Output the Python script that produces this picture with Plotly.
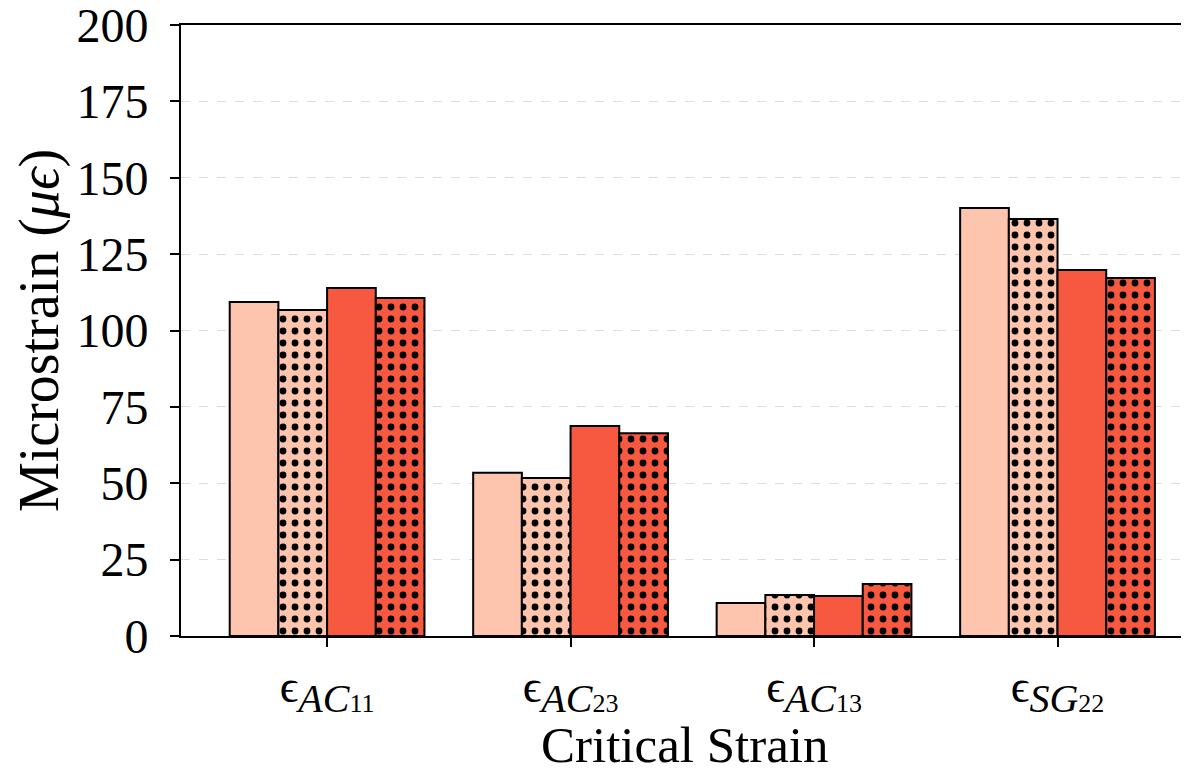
import plotly.graph_objects as go

cat_main = ["AC", "AC", "AC", "SG"]
cat_index = ["11", "23", "13", "22"]
series1 = [109.3, 53.4, 10.8, 140.1]
series2 = [106.7, 51.7, 13.4, 136.5]
series3 = [113.9, 68.7, 13.1, 119.8]
series4 = [110.6, 66.4, 17.0, 117.2]
series_names = ["A", "B", "C", "D"]
colors = ["#fdc4ae", "#fdc4ae", "#f6593f", "#f6593f"]
dotted = [False, True, False, True]
y_ticks = [0, 25, 50, 75, 100, 125, 150, 175, 200]

FONT = "Liberation Serif"

categories = [
    f"ϵ<sub><span style='font-size:40px'><i>{m}</i></span></sub>"
    f"<sub><span style='font-size:26px'>{i}</span></sub>"
    for m, i in zip(cat_main, cat_index)
]

fig = go.Figure()
xs = list(range(len(categories)))
for name, vals, col, dot in zip(series_names, [series1, series2, series3, series4], colors, dotted):
    if dot:
        pattern = dict(shape=".", fgcolor="black", fgopacity=1, bgcolor=col, size=12,
                       solidity=0.25, fillmode="overlay")
    else:
        pattern = dict(shape="")
    fig.add_trace(go.Bar(
        x=xs, y=vals, name=name,
        marker=dict(color=col, line=dict(color="black", width=2), pattern=pattern),
        showlegend=False,
    ))

fig.update_layout(
    width=1181, height=761,
    margin=dict(l=173, r=0, t=17, b=133),
    paper_bgcolor="white", plot_bgcolor="white",
    barmode="group", bargap=0.2, bargroupgap=0.0,
    font=dict(family=FONT, size=44, color="black"),
    xaxis=dict(
        tickmode="array", tickvals=xs, ticktext=categories,
        range=[-0.6, 3.54], automargin=False,
        showline=True, linecolor="black", linewidth=2, mirror=True,
        ticks="outside", ticklen=9, tickwidth=1.5, tickcolor="black",
        showgrid=False, zeroline=False,
        tickfont=dict(family=FONT, size=46),
        ticklabeloverflow="allow",
    ),
    yaxis=dict(
        range=[0, 200], tickmode="array", tickvals=y_ticks, automargin=False,
        showline=True, linecolor="black", linewidth=2,
        ticks="outside", ticklen=9, tickwidth=1.5, tickcolor="black",
        ticklabelstandoff=12, ticklabeloverflow="allow",
        showgrid=True, gridcolor="#dcdcdc", gridwidth=1, griddash="dash",
        zeroline=False,
        tickfont=dict(family=FONT, size=48),
        title=dict(text="Microstrain (<i>μϵ</i>)", font=dict(family=FONT, size=56), standoff=20),
    ),
    annotations=[dict(
        text="Critical Strain", xref="paper", yref="paper", x=0.5, y=-0.178,
        xanchor="center", yanchor="middle", showarrow=False,
        font=dict(family=FONT, size=51, color="black"),
    )],
)

fig.write_html("out.html")
